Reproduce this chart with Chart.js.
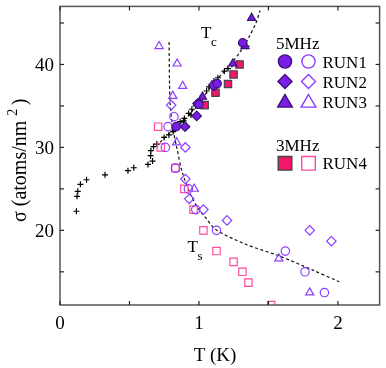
<!DOCTYPE html>
<html><head><meta charset="utf-8">
<script src="https://cdn.jsdelivr.net/npm/chart.js@4/dist/chart.umd.min.js"></script>
<style>html,body{margin:0;padding:0;background:#fff}#wrap{width:386px;height:368px}</style>
</head><body><div id="wrap"><canvas id="c" width="386" height="368"></canvas></div>
<script>
// Black crosses (measured sigma vs T)
const crossT = [0.118,0.123,0.128,0.147,0.191,0.324,0.489,0.531,0.633,0.666,0.652,0.654,0.673,0.697,0.749,0.784,0.814,0.864,0.895,0.89,0.926,0.943,0.949,0.977,1.008,1.025,1.055,1.072,1.108,1.136,1.183,1.209,1.237,1.343];
const crossS = [22.3,24.1,24.7,25.55,26.1,26.7,27.2,27.55,27.95,28.35,29.0,29.6,30.1,30.4,31.2,31.5,31.9,33.1,33.5,33.2,34.1,33.9,34.6,35.0,35.7,36.2,36.8,37.3,38.0,38.4,39.2,39.5,40.0,42.2];
// Dashed guide lines
const tcLineT = [0.72,0.8,0.9,1.0,1.1,1.2,1.3,1.36,1.41,1.44];
const tcLineS = [30.6,31.9,33.4,35.4,37.6,39.5,41.6,43.3,45.0,46.5];
const tsLineT = [0.785,0.788,0.793,0.81,0.84,0.88,0.94,1.0,1.05,1.12,1.34,1.58,1.82,2.01];
const tsLineS = [42.7,38.0,35.3,32.5,30.0,27.0,24.3,22.5,21.5,20.1,18.3,16.9,15.2,13.8];
// 5MHz filled (Tc branch)
const run1FT = [0.836,1.0,1.108,1.131,1.315];
const run1FS = [32.5,35.2,37.5,37.7,42.6];
const run2FT = [0.90,0.984,0.99,1.11];
const run2FS = [32.5,33.8,35.3,37.4];
const run3FT = [1.025,1.244,1.331,1.379];
const run3FS = [36.1,40.1,42.2,45.6];
// 3MHz filled
const run4FT = [1.041,1.119,1.209,1.249,1.292];
const run4FS = [35.1,36.6,37.65,38.8,40.0];
// open (Ts branch)
const run1OT = [0.82,0.777,0.758,0.831,0.924,0.977,1.126,1.622,1.763,1.903];
const run1OS = [33.7,32.5,30.0,27.5,25.0,22.5,20.0,17.5,15.0,12.5];
const run2OT = [0.80,0.902,0.902,0.93,1.032,1.202,1.797,1.953];
const run2OS = [35.1,30.0,26.2,23.8,22.5,21.2,20.0,18.7];
const run3OT = [0.713,0.843,0.883,0.812,0.84,0.966,1.575,1.797];
const run3OS = [42.2,40.1,37.4,36.2,30.6,25.0,16.6,12.5];
const run4OT = [0.706,0.725,0.831,0.895,0.961,1.032,1.126,1.249,1.313,1.356,1.52];
const run4OS = [32.5,30.0,27.5,25.0,22.5,20.0,17.5,16.2,15.0,13.7,11.0];
const xTicks = [0,0.5,1,1.5,2];
const yTicks = [15,20,25,30,35,40,45];
const xLabels = ['0','','1','','2'];
const yLabels = ['','20','','30','','40',''];

const pts = (xs, ys) => xs.map((x, i) => ({x, y: ys[i]}));
const PF = '#7a1ee6', PE = '#3c0f7a', PO = '#8c3cff';
const KF = '#f5166e', KE = '#444', KO = '#ff4aa0';
const SERIF = '"Liberation Serif", "DejaVu Serif", serif';

function mk(label, xs, ys, style, r, fill, edge, order) {
  return {type:'scatter', label, data: pts(xs, ys), pointStyle: style, pointRadius: r, pointHoverRadius: r,
    backgroundColor: fill, borderColor: edge, pointBorderWidth: 1.2, borderWidth: 1.2, showLine: false, order};
}
function dline(label, xs, ys) {
  return {type:'line', label, data: pts(xs, ys), borderColor: '#111', borderWidth: 1.2, borderDash: [3,2.5],
    pointRadius: 0, fill: false, tension: 0.3, order: 20};
}

const datasets = [
  dline('Tc', tcLineT, tcLineS),
  dline('Ts', tsLineT, tsLineS),
  mk('crosses', crossT, crossS, 'cross', 3, '#000', '#000', 15),
  mk('RUN4 open', run4OT, run4OS, 'rect', 5.2, 'rgba(0,0,0,0)', KO, 10),
  mk('RUN3 open', run3OT, run3OS, 'triangle', 4.7, 'rgba(0,0,0,0)', PO, 9),
  mk('RUN2 open', run2OT, run2OS, 'rectRot', 4.7, 'rgba(0,0,0,0)', PO, 8),
  mk('RUN1 open', run1OT, run1OS, 'circle', 4.2, 'rgba(0,0,0,0)', PO, 7),
  mk('RUN4 filled', run4FT, run4FS, 'rect', 5.2, KF, KE, 6),
  mk('RUN3 filled', run3FT, run3FS, 'triangle', 4.7, PF, PE, 5),
  mk('RUN2 filled', run2FT, run2FS, 'rectRot', 4.7, PF, PE, 4),
  mk('RUN1 filled', run1FT, run1FS, 'circle', 4.2, PF, PE, 3),
];

function drawMarker(ctx, style, x, y, r, fill, edge) {
  ctx.save();
  ctx.beginPath();
  if (style === 'circle') ctx.arc(x, y, r, 0, Math.PI*2);
  else if (style === 'rect') ctx.rect(x - r, y - r, 2*r, 2*r);
  else if (style === 'rectRot') { ctx.moveTo(x, y - r); ctx.lineTo(x + r, y); ctx.lineTo(x, y + r); ctx.lineTo(x - r, y); ctx.closePath(); }
  else if (style === 'triangle') { ctx.moveTo(x, y - r); ctx.lineTo(x + r*1.05, y + r*0.8); ctx.lineTo(x - r*1.05, y + r*0.8); ctx.closePath(); }
  if (fill) { ctx.fillStyle = fill; ctx.fill(); }
  ctx.lineWidth = 1.4; ctx.strokeStyle = edge; ctx.stroke();
  ctx.restore();
}

const deco = {
  id: 'deco',
  afterDraw(chart) {
    const ctx = chart.ctx, a = chart.chartArea, xs = chart.scales.x, ys = chart.scales.y;
    ctx.save();
    ctx.strokeStyle = '#555'; ctx.lineWidth = 1.5;
    ctx.strokeRect(a.left, a.top, a.right - a.left, a.bottom - a.top);
    ctx.lineWidth = 1.2; ctx.strokeStyle = '#222';
    xTicks.forEach(v => { const px = xs.getPixelForValue(v);
      ctx.beginPath(); ctx.moveTo(px, a.bottom); ctx.lineTo(px, a.bottom - 4); ctx.stroke();
      ctx.beginPath(); ctx.moveTo(px, a.top); ctx.lineTo(px, a.top + 4); ctx.stroke(); });
    yTicks.forEach(v => { const py = ys.getPixelForValue(v);
      ctx.beginPath(); ctx.moveTo(a.left, py); ctx.lineTo(a.left + 4, py); ctx.stroke();
      ctx.beginPath(); ctx.moveTo(a.right, py); ctx.lineTo(a.right - 4, py); ctx.stroke(); });
    ctx.fillStyle = '#000'; ctx.textBaseline = 'alphabetic';
    // tick labels
    ctx.font = '19px ' + SERIF; ctx.textAlign = 'center';
    xTicks.forEach((v, i) => { if (xLabels[i]) ctx.fillText(xLabels[i], xs.getPixelForValue(v), 329); });
    ctx.textAlign = 'right';
    yTicks.forEach((v, i) => { if (yLabels[i]) ctx.fillText(yLabels[i], 54, ys.getPixelForValue(v) + 6.5); });
    // x title
    ctx.textAlign = 'center'; ctx.font = '19px ' + SERIF;
    ctx.fillText('T (K)', 215, 361);
    // y title
    ctx.save();
    ctx.translate(26, 222); ctx.rotate(-Math.PI/2);
    ctx.textAlign = 'left'; ctx.font = '20px ' + SERIF;
    const t1 = 'σ (atoms/nm ';
    ctx.fillText(t1, 0, 0);
    let w = ctx.measureText(t1).width;
    ctx.font = '14px ' + SERIF; ctx.fillText('2', w, -9);
    w += ctx.measureText('2 ').width;
    ctx.font = '20px ' + SERIF; ctx.fillText(')', w, 0);
    ctx.restore();
    // Tc / Ts labels
    ctx.textAlign = 'left';
    ctx.font = '17px ' + SERIF; ctx.fillText('T', 201, 37.5);
    ctx.font = '13px ' + SERIF; ctx.fillText('c', 211, 46);
    ctx.font = '17px ' + SERIF; ctx.fillText('T', 187.5, 252);
    ctx.font = '13px ' + SERIF; ctx.fillText('s', 197.5, 260);
    // legend
    ctx.font = '17px ' + SERIF;
    ctx.fillText('5MHz', 276, 48.5);
    ctx.fillText('3MHz', 276, 150.5);
    const rows = [['RUN1','circle',61.5,6.6,PF,PE,PO],['RUN2','rectRot',81.5,7,PF,PE,PO],['RUN3','triangle',101.5,7,PF,PE,PO],['RUN4','rect',163.3,6.8,KF,KE,KO]];
    rows.forEach(([lab, st, y, r, f, e, o]) => {
      drawMarker(ctx, st, 285, y, r, f, e);
      drawMarker(ctx, st, 308.5, y, r, null, o);
      ctx.fillStyle = '#000'; ctx.font = '17px ' + SERIF;
      ctx.fillText(lab, 322.5, y + 6);
    });
    ctx.restore();
  }
};

new Chart(document.getElementById('c'), {
  data: { datasets },
  options: {
    responsive: false, animation: false,
    layout: { padding: { top: 1, right: 2, left: 0, bottom: 0 } },
    plugins: { legend: { display: false }, tooltip: { enabled: false } },
    scales: {
      x: { type: 'linear', min: 0, max: 2.3, grid: { display: false }, border: { display: false },
           ticks: { display: false, stepSize: 0.5 },
           afterFit(s) { s.height = 63; } },
      y: { type: 'linear', min: 11, max: 47, grid: { display: false }, border: { display: false },
           ticks: { display: false, stepSize: 5 },
           afterFit(s) { s.width = 60; } }
    }
  },
  plugins: [deco]
});
</script></body></html>
